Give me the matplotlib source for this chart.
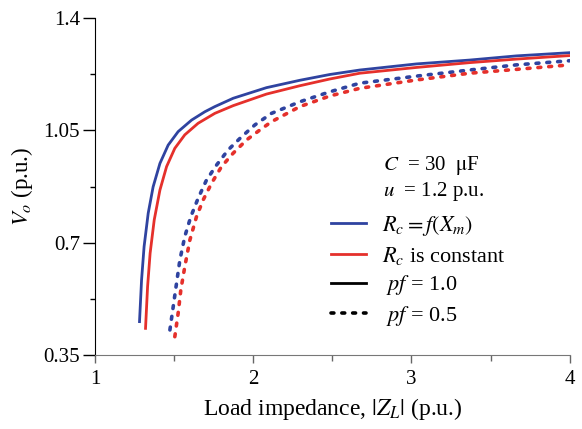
import matplotlib
matplotlib.use("Agg")
from matplotlib import pyplot as plt
from matplotlib.lines import Line2D

plt.rcParams['font.family'] = ['Liberation Serif', 'DejaVu Serif']
plt.rcParams['mathtext.fontset'] = 'stix'

# load impedance |Z_L| (p.u.) and output voltage V_o (p.u.)
z_blue_pf1 = [1.282, 1.295, 1.311, 1.337, 1.368, 1.411, 1.463, 1.526, 1.611, 1.695, 1.758,
              1.874, 2.084, 2.295, 2.484, 2.674, 3.032, 3.368, 3.663, 4.0]
v_blue_pf1 = [0.454, 0.584, 0.688, 0.792, 0.874, 0.947, 1.004, 1.046, 1.082, 1.108, 1.124,
              1.150, 1.183, 1.206, 1.224, 1.238, 1.257, 1.269, 1.282, 1.292]

z_red_pf1 = [1.320, 1.333, 1.349, 1.375, 1.411, 1.453, 1.505, 1.568, 1.652, 1.758,
             1.874, 2.084, 2.295, 2.484, 2.674, 3.032, 3.368, 3.663, 4.0]
v_red_pf1 = [0.433, 0.563, 0.667, 0.771, 0.864, 0.937, 0.994, 1.036, 1.072, 1.103,
             1.127, 1.163, 1.189, 1.210, 1.228, 1.246, 1.261, 1.272, 1.283]

z_blue_pf05 = [1.474, 1.495, 1.516, 1.537, 1.568, 1.606, 1.652, 1.705, 1.769, 1.842, 1.927,
               2.011, 2.116, 2.295, 2.484, 2.674, 3.032, 3.368, 3.663, 4.0]
v_blue_pf05 = [0.428, 0.501, 0.574, 0.646, 0.719, 0.781, 0.838, 0.895, 0.942, 0.989, 1.030,
               1.067, 1.103, 1.139, 1.170, 1.197, 1.219, 1.238, 1.254, 1.267]

z_red_pf05 = [1.505, 1.526, 1.543, 1.568, 1.600, 1.642, 1.684, 1.737, 1.800, 1.874, 1.958,
              2.042, 2.116, 2.295, 2.484, 2.674, 3.032, 3.368, 3.663, 4.0]
v_red_pf05 = [0.407, 0.480, 0.553, 0.625, 0.708, 0.781, 0.833, 0.885, 0.937, 0.979, 1.020,
              1.051, 1.077, 1.124, 1.157, 1.181, 1.207, 1.228, 1.240, 1.254]

blue = '#2f43a0'
red = '#e5302b'
dots = (0, (0.8, 2.2))

fig = plt.figure(figsize=(5.82, 4.29), dpi=100)
ax = fig.add_axes([0.163, 0.1725, 0.816, 0.7855])

ax.plot(z_blue_pf1, v_blue_pf1, color=blue, lw=2.0)
ax.plot(z_red_pf1, v_red_pf1, color=red, lw=2.0)
ax.plot(z_blue_pf05, v_blue_pf05, color=blue, lw=2.6, ls=dots, dash_capstyle='round')
ax.plot(z_red_pf05, v_red_pf05, color=red, lw=2.6, ls=dots, dash_capstyle='round')

ax.set_xlim(1, 4)
ax.set_ylim(0.35, 1.4)
ax.set_xticks([1, 2, 3, 4])
ax.set_xticks([1.5, 2.5, 3.5], minor=True)
ax.set_xticklabels(['1', '2', '3', '4'])
ax.set_yticks([0.35, 0.7, 1.05, 1.4])
ax.set_yticks([0.525, 0.875, 1.225], minor=True)
ax.set_yticklabels(['0.35', '0.7', '1.05', '1.4'])
ax.tick_params(axis='y', which='major', labelsize=15, direction='out', length=8.6, width=1, pad=2)
ax.tick_params(axis='y', which='minor', direction='out', length=3.6, width=1)
ax.tick_params(axis='x', which='major', labelsize=15, direction='out', length=6, width=1,
               colors='#666666', labelcolor='black', pad=5)
ax.tick_params(axis='x', which='minor', direction='out', length=4, width=1, colors='#666666')

ax.spines['top'].set_visible(False)
ax.spines['right'].set_visible(False)
ax.spines['bottom'].set_color('#777777')

ax.set_xlabel(r'Load impedance, $|Z_L|$ (p.u.)', fontsize=17, labelpad=5)
ax.set_ylabel(r'$V_o$ (p.u.)', fontsize=16.5, labelpad=6)

ax.text(0.606, 0.562, r'$C$  = 30  $\mathrm{\mu}$F', transform=ax.transAxes, fontsize=15, va='center')
ax.text(0.606, 0.484, r'$u$  = 1.2 p.u.', transform=ax.transAxes, fontsize=15, va='center')

handles = [
    Line2D([], [], color=blue, lw=2.0),
    Line2D([], [], color=red, lw=2.0),
    Line2D([], [], color='black', lw=2.0),
    Line2D([], [], color='black', lw=2.6, ls=dots, dash_capstyle='round'),
]
labels = [r'$R_c = f(X_m)$', r'$R_c$ is constant', r' $pf$ = 1.0', r' $pf$ = 0.5']
ax.legend(handles, labels, loc='upper left', bbox_to_anchor=(0.498, 0.418), frameon=False,
          fontsize=16, handlelength=1.58, handletextpad=0.72, labelspacing=0.3,
          borderpad=0, borderaxespad=0)

fig.savefig('out.png', dpi=100)
